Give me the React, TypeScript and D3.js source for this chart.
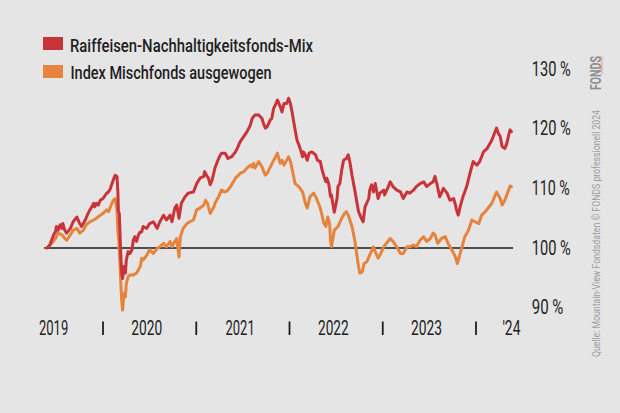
import React from "react";
import * as d3 from "d3";

const seriesNames = ["Raiffeisen-Nachhaltigkeitsfonds-Mix", "Index Mischfonds ausgewogen"];
const seriesColors = ["#c8343a", "#e6843e"];

const redDates = [2019.40,2019.43,2019.47,2019.49,2019.50,2019.52,2019.54,2019.56,2019.57,2019.59,2019.61,2019.65,2019.68,2019.72,2019.75,2019.77,2019.81,2019.84,2019.86,2019.88,2019.90,2019.91,2019.93,2019.95,2019.97,2020.00,2020.04,2020.06,2020.08,2020.11,2020.13,2020.15,2020.16,2020.165,2020.175,2020.18,2020.19,2020.20,2020.21,2020.225,2020.24,2020.25,2020.27,2020.29,2020.31,2020.325,2020.34,2020.36,2020.38,2020.40,2020.415,2020.43,2020.47,2020.50,2020.54,2020.58,2020.61,2020.65,2020.68,2020.72,2020.74,2020.77,2020.79,2020.815,2020.84,2020.88,2020.915,2020.97,2021.005,2021.04,2021.08,2021.09,2021.11,2021.13,2021.15,2021.17,2021.20,2021.24,2021.27,2021.31,2021.34,2021.38,2021.42,2021.44,2021.47,2021.51,2021.545,2021.58,2021.60,2021.63,2021.67,2021.705,2021.72,2021.74,2021.76,2021.795,2021.81,2021.83,2021.85,2021.87,2021.88,2021.90,2021.92,2021.94,2021.97,2021.99,2022.01,2022.03,2022.045,2022.06,2022.08,2022.10,2022.12,2022.14,2022.15,2022.17,2022.19,2022.21,2022.24,2022.28,2022.30,2022.33,2022.35,2022.37,2022.39,2022.40,2022.42,2022.44,2022.45,2022.48,2022.51,2022.52,2022.54,2022.56,2022.58,2022.61,2022.63,2022.65,2022.67,2022.70,2022.74,2022.77,2022.79,2022.81,2022.85,2022.86,2022.88,2022.90,2022.92,2022.95,2022.97,2023.01,2023.02,2023.06,2023.08,2023.11,2023.15,2023.19,2023.22,2023.26,2023.29,2023.33,2023.36,2023.40,2023.44,2023.47,2023.51,2023.54,2023.56,2023.58,2023.61,2023.63,2023.65,2023.69,2023.72,2023.76,2023.78,2023.79,2023.81,2023.83,2023.86,2023.90,2023.94,2023.97,2024.01,2024.04,2024.08,2024.12,2024.15,2024.17,2024.19,2024.22,2024.24,2024.26,2024.28,2024.31,2024.33,2024.35,2024.365,2024.38];
const redValues = [100.0,100.5,102.2,102.7,103.6,103.0,103.9,103.3,104.1,103.0,102.5,103.3,104.4,105.2,104.1,103.6,104.7,105.8,106.4,106.9,107.5,106.9,107.5,107.2,108.0,108.3,109.2,109.4,110.0,111.4,112.2,112.0,109.2,106.1,105.8,103.6,99.1,95.8,94.9,96.9,95.8,98.0,99.4,99.1,99.7,101.3,101.9,101.1,102.2,102.7,102.7,103.6,103.3,104.1,104.4,103.3,104.4,105.5,104.7,105.5,104.4,106.7,107.2,105.0,107.5,108.6,109.2,109.4,110.8,111.7,112.0,112.8,112.2,111.7,110.6,111.4,113.4,115.0,115.9,115.9,115.0,115.3,116.1,116.7,117.8,118.7,119.5,120.6,121.7,122.3,122.3,121.7,120.9,120.1,120.3,121.5,121.7,123.4,124.0,124.8,124.5,123.7,122.8,124.2,124.2,125.1,124.2,122.6,121.2,119.8,118.1,117.3,116.4,115.3,116.1,115.6,114.7,115.9,116.1,115.6,114.7,114.5,113.1,112.0,111.1,111.7,110.8,108.6,108.9,106.0,108.3,110.3,110.8,113.1,114.7,115.0,115.6,114.2,112.2,109.7,106.1,105.0,104.4,106.9,108.3,109.7,110.6,109.4,110.8,108.3,109.2,109.7,108.9,110.3,111.1,110.3,109.7,109.4,108.3,109.4,109.2,109.7,110.3,110.8,111.1,110.3,110.8,111.1,112.0,110.8,108.6,109.2,110.0,109.2,108.0,108.3,107.2,106.4,105.5,106.9,108.6,110.3,112.8,114.5,113.9,114.5,116.1,116.7,117.5,118.1,118.9,120.1,119.2,118.7,117.0,116.7,117.5,118.9,119.8,119.5];

const orangeDates = [2019.40,2019.45,2019.49,2019.52,2019.56,2019.59,2019.61,2019.65,2019.68,2019.72,2019.75,2019.79,2019.82,2019.86,2019.90,2019.93,2019.97,2020.00,2020.04,2020.06,2020.08,2020.11,2020.13,2020.15,2020.16,2020.17,2020.18,2020.19,2020.20,2020.21,2020.225,2020.24,2020.25,2020.27,2020.29,2020.325,2020.36,2020.40,2020.415,2020.43,2020.47,2020.50,2020.54,2020.58,2020.61,2020.65,2020.68,2020.72,2020.74,2020.77,2020.79,2020.815,2020.83,2020.86,2020.90,2020.93,2020.97,2021.005,2021.04,2021.08,2021.10,2021.12,2021.15,2021.19,2021.20,2021.24,2021.27,2021.31,2021.34,2021.38,2021.42,2021.44,2021.47,2021.51,2021.545,2021.58,2021.60,2021.615,2021.63,2021.67,2021.705,2021.74,2021.76,2021.795,2021.83,2021.87,2021.88,2021.90,2021.92,2021.94,2021.97,2021.99,2022.01,2022.03,2022.06,2022.10,2022.14,2022.17,2022.19,2022.22,2022.26,2022.29,2022.33,2022.37,2022.39,2022.41,2022.43,2022.44,2022.45,2022.47,2022.48,2022.52,2022.56,2022.59,2022.61,2022.63,2022.67,2022.70,2022.72,2022.74,2022.755,2022.78,2022.80,2022.83,2022.86,2022.90,2022.92,2022.95,2022.97,2023.01,2023.04,2023.08,2023.11,2023.15,2023.19,2023.22,2023.26,2023.29,2023.33,2023.36,2023.40,2023.44,2023.47,2023.51,2023.54,2023.56,2023.59,2023.63,2023.67,2023.70,2023.74,2023.78,2023.80,2023.82,2023.85,2023.88,2023.92,2023.955,2023.99,2024.03,2024.06,2024.10,2024.13,2024.17,2024.20,2024.22,2024.26,2024.28,2024.31,2024.33,2024.35,2024.365,2024.38];
const orangeValues = [100.0,100.8,101.6,102.5,102.2,101.6,101.3,102.2,103.0,103.3,102.5,103.0,103.9,104.4,104.7,105.0,105.5,105.8,106.4,106.1,106.9,108.0,108.3,106.4,102.7,101.1,98.0,94.6,91.3,89.6,92.4,91.8,94.1,95.2,95.5,95.5,95.8,96.9,98.3,98.0,98.8,99.7,99.1,99.9,100.2,100.8,100.2,101.1,100.2,101.1,101.6,98.5,101.9,103.3,104.1,104.4,104.7,106.4,106.7,107.2,108.0,107.5,105.8,106.9,107.5,108.6,109.7,109.4,109.7,110.6,111.7,112.0,112.5,112.8,113.4,113.9,113.6,114.2,113.4,114.5,113.6,112.2,112.5,113.6,114.7,115.9,115.3,114.2,114.7,113.9,114.7,115.3,114.5,113.1,110.8,110.3,109.4,107.5,106.7,108.6,109.2,108.3,106.7,104.1,103.6,105.2,104.1,101.3,100.2,102.0,103.0,103.6,105.0,105.8,106.1,105.5,103.6,101.3,99.1,96.9,95.8,96.0,97.4,97.7,98.8,100.2,99.4,98.3,98.8,100.2,100.8,101.6,101.1,100.2,99.1,99.1,100.2,100.2,100.5,100.2,101.3,101.9,101.1,101.6,102.5,102.2,100.8,101.6,101.9,100.8,99.7,98.5,97.4,98.5,100.2,101.9,103.0,104.7,104.4,104.1,105.5,106.1,106.7,107.5,108.6,109.4,108.3,107.2,108.0,108.9,109.7,110.4,110.3];

const yTicks = [90, 100, 110, 120, 130];
const yearLabels = ["2019", "2020", "2021", "2022", "2023"];
const yearStarts = [2019, 2020, 2021, 2022, 2023];
const yearDividers = [2020, 2021, 2022, 2023, 2024];
const lastLabel = "'24";
const sourceText = "Quelle: Mountain-View Fondsdaten   © FONDS professionell 2024";

const W = 620;
const H = 413;
const FONT = "Roboto, 'Liberation Sans', sans-serif";
const TEXT = "#1e1e1e";

export default function App() {
  const x = d3.scaleLinear().domain([2020, 2024]).range([103, 476]);
  const y = d3.scaleLinear().domain([90, 130]).range([307.7, 69]);

  const line = d3
    .line<[number, number]>()
    .x((d) => x(d[0]))
    .y((d) => y(d[1]))
    .curve(d3.curveLinear);

  const redPath = line(redDates.map((t, i) => [t, redValues[i]] as [number, number])) || "";
  const orangePath = line(orangeDates.map((t, i) => [t, orangeValues[i]] as [number, number])) || "";

  const yLabelW: Record<number, number> = { 90: 31.7, 100: 39, 110: 38, 120: 39, 130: 39 };
  const yearW = [29.3, 31, 29.3, 30.7, 31];

  return (
    <div style={{ position: "fixed", left: 0, top: 0, width: W, height: H }}>
      <svg width={W} height={H} style={{ display: "block", fontFamily: FONT }}>
        <rect x={0} y={0} width={W} height={H} fill="#e5e5e5" />

        {/* legend */}
        <rect x={43} y={37} width={20} height={13} fill={seriesColors[0]} />
        <text x={70} y={51.7} fontSize={18.5} fontWeight={500} fill={TEXT} textLength={243} lengthAdjust="spacingAndGlyphs">
          {seriesNames[0]}
        </text>
        <rect x={43} y={65} width={20} height={13} fill={seriesColors[1]} />
        <text x={70.5} y={79} fontSize={18.5} fontWeight={500} fill={TEXT} textLength={201} lengthAdjust="spacingAndGlyphs">
          {seriesNames[1]}
        </text>

        {/* baseline at 100 */}
        <line x1={44} x2={513} y1={y(100)} y2={y(100)} stroke="#1a1a1a" strokeWidth={1.6} />

        {/* series */}
        <path d={orangePath} fill="none" stroke={seriesColors[1]} strokeWidth={3} strokeLinejoin="round" strokeLinecap="round" />
        <path d={redPath} fill="none" stroke={seriesColors[0]} strokeWidth={3} strokeLinejoin="round" strokeLinecap="round" />

        {/* right axis labels */}
        {yTicks.map((v) => (
          <text key={v} x={531.7} y={y(v) + 6.7} fontSize={19.5} fill={TEXT} textLength={yLabelW[v]} lengthAdjust="spacingAndGlyphs">
            {v + " %"}
          </text>
        ))}

        {/* x axis labels */}
        {yearLabels.map((l, i) => (
          <text key={l} x={x(yearStarts[i] + 0.47)} y={335} fontSize={19.5} fill={TEXT} textAnchor="middle" textLength={yearW[i]} lengthAdjust="spacingAndGlyphs">
            {l}
          </text>
        ))}
        {yearDividers.map((d) => (
          <line key={d} x1={x(d)} x2={x(d)} y1={321.5} y2={335} stroke={TEXT} strokeWidth={1.8} />
        ))}
        <text x={x(2024.38)} y={335} fontSize={19.5} fill={TEXT} textAnchor="middle" textLength={18} lengthAdjust="spacingAndGlyphs">
          {lastLabel}
        </text>

        {/* vertical source */}
        <g transform="translate(599.5, 357) rotate(-90)">
          <text x={0} y={0} fontSize={11} fill="#9c9c9c" textLength={247} lengthAdjust="spacingAndGlyphs">
            {sourceText}
          </text>
          <text x={267} y={1} fontSize={14} fontWeight={700} fill="#8e8e8e" textLength={34} lengthAdjust="spacingAndGlyphs">
            FONDS
          </text>
          <text x={283} y={3.5} fontSize={4} fill="#e6843e" textLength={18} lengthAdjust="spacingAndGlyphs">
            professionell
          </text>
        </g>
      </svg>
    </div>
  );
}
